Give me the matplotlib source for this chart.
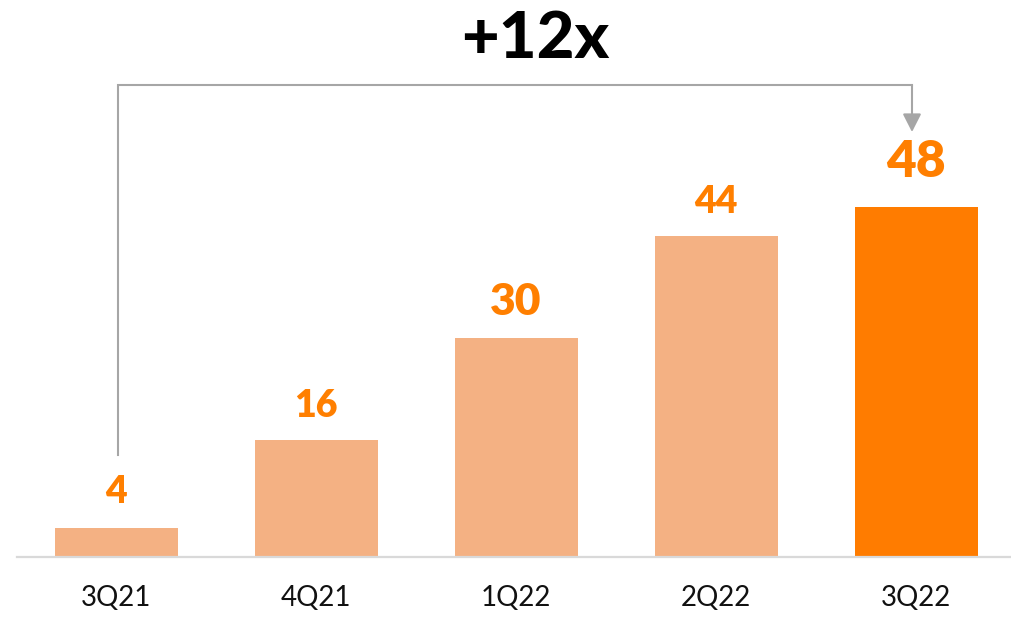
import matplotlib
matplotlib.use("Agg")
import matplotlib.pyplot as plt

# Quarterly values
categories = ["3Q21", "4Q21", "1Q22", "2Q22", "3Q22"]
values = [4, 16, 30, 44, 48]
label_sizes = [27, 27, 32, 27, 37]
label_offsets = [36, 34, 36, 34, 45]  # px above bar top
growth_label = "+12x"

light = "#F4B183"
dark = "#FF7C00"
label_color = "#FF7F00"
bracket_color = "#A6A6A6"

plt.rcParams["font.family"] = ["Lato", "DejaVu Sans"]

W, H = 1011, 620
fig = plt.figure(figsize=(W / 100, H / 100), dpi=100)
# axes: left 17px, right edge, bottom at baseline (557px), top at 0px
ax = fig.add_axes([17 / W, (H - 557) / H, 1 - 17 / W, 557 / H])

px_per_unit = 350 / 48
ax.set_ylim(0, 557 / px_per_unit)
ax.set_xlim(-0.495, 4.475)

x = list(range(len(categories)))
colors = [light] * (len(values) - 1) + [dark]
ax.bar(x, values, width=0.615, color=colors, zorder=2)

for xi, v, fs, off in zip(x, values, label_sizes, label_offsets):
    ax.annotate(str(v), (xi, v), xytext=(0, off * 0.72), textcoords="offset points",
                ha="center", va="center", fontsize=fs, fontweight="heavy",
                color=label_color)

# baseline
for s in ["top", "right", "left"]:
    ax.spines[s].set_visible(False)
ax.spines["bottom"].set_color("#D9D9D9")
ax.spines["bottom"].set_linewidth(1.6)
ax.set_yticks([])
ax.set_xticks(x)
ax.set_xticklabels(categories, fontsize=20, color="#111111")
ax.tick_params(axis="x", length=0, pad=20)

# growth bracket from first bar to last bar
y_start = values[0] + 73 / px_per_unit
y_top = max(values) + 122 / px_per_unit
y_tip = values[-1] + 75 / px_per_unit
x0, x1 = x[0] + 0.01, x[-1] - 0.02
ax.plot([x0, x0, x1], [y_start, y_top, y_top], color=bracket_color, lw=1.5,
        solid_joinstyle="miter", zorder=1)
ax.annotate("", xy=(x1, y_tip), xytext=(x1, y_top),
            arrowprops=dict(arrowstyle="-|>,head_length=0.55,head_width=0.28",
                            mutation_scale=20, color=bracket_color, lw=1.5,
                            shrinkA=0, shrinkB=0))

fig.text(535 / W, 1 - 40 / H, growth_label, ha="center", va="center",
         fontsize=47, fontweight="black", color="black")

fig.savefig("out.png", dpi=100, facecolor="white")
